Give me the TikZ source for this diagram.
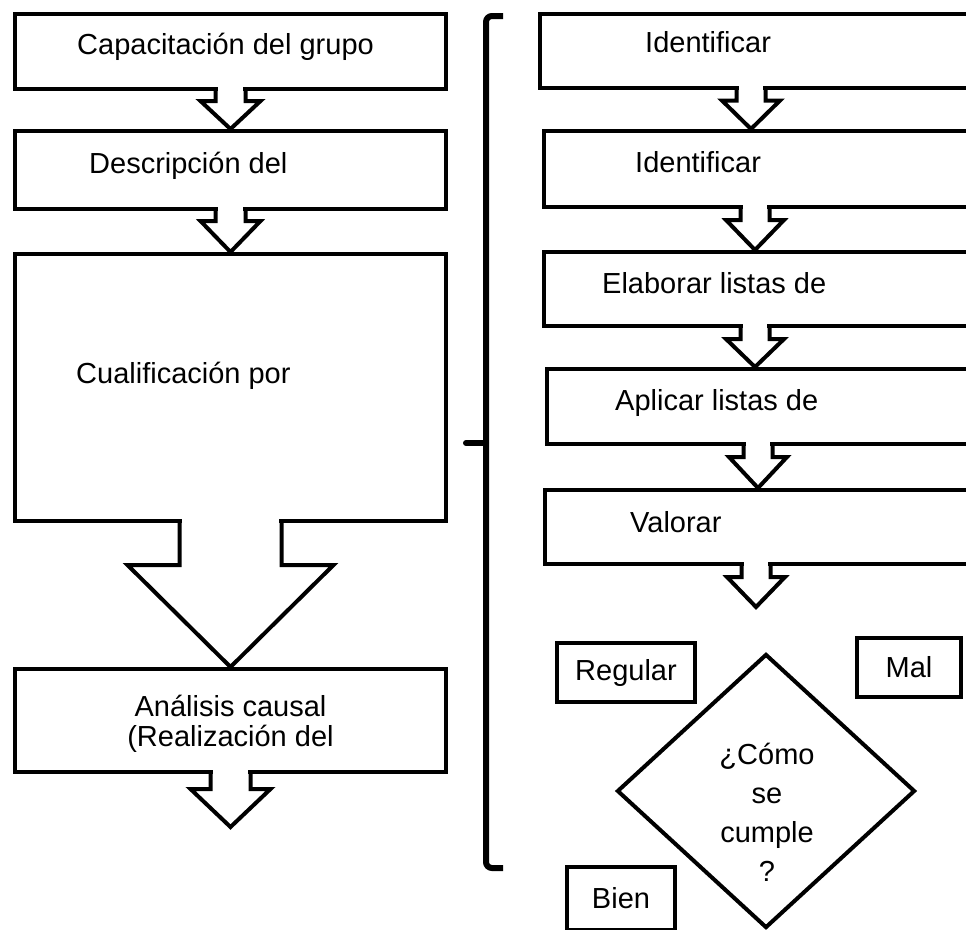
\documentclass[tikz,border=0pt]{standalone}
\usepackage{fontspec}
\setmainfont{Liberation Sans}
\usepackage{tikz}
\usetikzlibrary{calc,shapes.geometric}

% block arrow from a box bottom (#1) down to (#2): stem half width, head half width, stem length
\newcommand{\flowarrow}[5]{%
  \fill[white] let \p1=(#1) in (\x1-#3+2.5,\y1-4) rectangle (\x1+#3-2.5,\y1+4);
  \draw[line width=4pt] let \p1=(#1), \p2=(#2) in
    (\x1-#3,\y1) -- (\x1-#3,\y1-#5) -- (\x1-#4,\y1-#5) -- (\x1,\y2)
    -- (\x1+#4,\y1-#5) -- (\x1+#3,\y1-#5) -- (\x1+#3,\y1);
}

\begin{document}
\begin{tikzpicture}[x=1pt, y=-1pt, font=\fontsize{29}{30}\selectfont,
    box/.style={draw, line width=4pt, inner sep=0pt},
    txt/.style={anchor=base west, inner sep=0pt}]
    \useasboundingbox (0,0) rectangle (966,929);
    \clip (0,0) rectangle (966,929);

    % left column
    \node[box, minimum width=431pt, minimum height=75pt] (L1) at (230.5,51.5) {};
    \node[box, minimum width=431pt, minimum height=78pt] (L2) at (230.5,170) {};
    \node[box, minimum width=431pt, minimum height=267pt] (L3) at (230.5,387.5) {};
    \node[box, minimum width=431pt, minimum height=103pt] (L4) at (230.5,720.5) {};
    \node[txt] (t1) at (77,54) {Capacitación del grupo};
    \node[txt] (t2) at (89,173) {Descripción del};
    \node[txt] (t3) at (76,383) {Cualificación por};
    \node[align=center, inner sep=0pt] (t4) at (230.5,724) {Análisis causal\\(Realización del};
    \coordinate (endL) at (230.5,827);
    \flowarrow{L1.south}{L2.north}{15}{30}{10}
    \flowarrow{L2.south}{L3.north}{15}{30}{10}
    \flowarrow{L3.south}{L4.north}{51}{103}{42}
    \flowarrow{L4.south}{endL}{20}{40}{15}

    % bracket
    \draw[line width=6pt, rounded corners=6pt] (503,16) -- (486,16) -- (486,868) -- (503,868);
    \draw[line width=6pt, line cap=round] (486,443) -- (466,443);

    % right column
    \node[box, minimum width=460pt, minimum height=74pt] (R1) at (770,50.5) {};
    \node[box, minimum width=460pt, minimum height=76pt] (R2) at (774,169) {};
    \node[box, minimum width=460pt, minimum height=74pt] (R3) at (774,289) {};
    \node[box, minimum width=460pt, minimum height=75pt] (R4) at (777,406.5) {};
    \node[box, minimum width=460pt, minimum height=74pt] (R5) at (775,527) {};
    \node[txt] (s1) at (645,52) {Identificar};
    \node[txt] (s2) at (635,172) {Identificar};
    \node[txt] (s3) at (602,293) {Elaborar listas de};
    \node[txt] (s4) at (615,410) {Aplicar listas de};
    \node[txt] (s5) at (630,532) {Valorar};
    \coordinate (endR) at (758,607);
    \flowarrow{$(R1.south west)+(213,0)$}{R2.north}{14.5}{29}{11}
    \flowarrow{$(R2.south west)+(213,0)$}{R3.north}{14.5}{29}{11}
    \flowarrow{$(R3.south west)+(213,0)$}{R4.north}{14.5}{29}{11}
    \flowarrow{$(R4.south west)+(213,0)$}{R5.north}{14.5}{29}{11}
    \flowarrow{$(R5.south west)+(213,0)$}{endR}{14.5}{29}{11}

    % decision
    \node[draw, shape=diamond, line width=4pt, inner sep=0pt,
        minimum width=298pt, minimum height=274pt] (q) at (766,791) {};
    \node[align=center, inner sep=0pt, font=\fontsize{29}{39}\selectfont] (qt) at (767,812) {¿Cómo\\se\\cumple\\?};
    \node[box, minimum width=138pt, minimum height=59pt] (reg) at (626,672.5) {Regular};
    \node[box, minimum width=104pt, minimum height=59pt] (mal) at (909,667.5) {Mal};
    \node[box, minimum width=108pt, minimum height=63pt] (bien) at (621,898.5) {Bien};
\end{tikzpicture}
\end{document}
